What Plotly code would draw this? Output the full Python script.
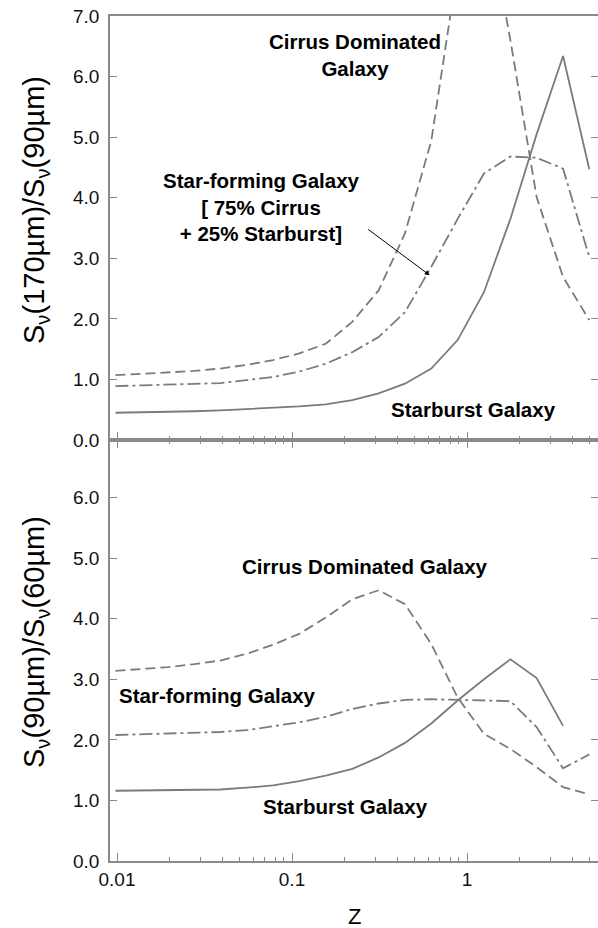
import math
import plotly.graph_objects as go

# ---------------- data ----------------
z = [0.0098, 0.0138, 0.0195, 0.0276, 0.039, 0.055, 0.078, 0.11, 0.156, 0.221,
     0.3125, 0.442, 0.625, 0.884, 1.25, 1.77, 2.5, 3.54, 5.0]

# Top panel: S(170um)/S(90um)
top_starburst = [0.45, 0.455, 0.465, 0.475, 0.49, 0.51, 0.54, 0.555, 0.59, 0.66,
                 0.77, 0.93, 1.18, 1.65, 2.44, 3.65, 5.05, 6.34, 4.47]
top_cirrus = [1.07, 1.09, 1.11, 1.14, 1.18, 1.24, 1.32, 1.43, 1.59, 1.95,
              2.47, 3.41, 4.94, 7.8, 9.0, 6.6, 4.01, 2.69, 1.98]
top_starforming = [0.89, 0.90, 0.91, 0.925, 0.94, 0.99, 1.04, 1.13, 1.26, 1.45,
                   1.70, 2.11, 2.86, 3.65, 4.40, 4.68, 4.66, 4.48, 3.02]

# Bottom panel: S(90um)/S(60um)
bot_z_starburst = z[:-1]
bot_starburst = [1.16, 1.165, 1.17, 1.175, 1.18, 1.21, 1.25, 1.32, 1.41, 1.52,
                 1.71, 1.95, 2.27, 2.65, 3.00, 3.33, 3.02, 2.23]
bot_cirrus = [3.14, 3.17, 3.20, 3.25, 3.31, 3.42, 3.57, 3.75, 4.02, 4.32,
              4.47, 4.24, 3.58, 2.70, 2.10, 1.85, 1.55, 1.22, 1.10]
bot_starforming = [2.08, 2.09, 2.10, 2.11, 2.13, 2.16, 2.22, 2.29, 2.38, 2.51,
                   2.60, 2.66, 2.67, 2.66, 2.66, 2.64, 2.21, 1.53, 1.76]

x_tickvals = [0.01, 0.1, 1]
x_ticktext = ["0.01", "0.1", "1"]
x_minor = [0.02, 0.03, 0.04, 0.05, 0.06, 0.07, 0.08, 0.09,
           0.2, 0.3, 0.4, 0.5, 0.6, 0.7, 0.8, 0.9, 2, 3, 4, 5]
top_yticks = [0, 1, 2, 3, 4, 5, 6, 7]
bot_yticks = [0, 1, 2, 3, 4, 5, 6]

# ---------------- style ----------------
LINE = "#7b7b7b"
AX = "#8a8a8a"
FONT = "Liberation Sans, Arial, sans-serif"
W = 1.8
DASH = "10px,5px"
DASHDOT = "13px,4px,3px,4px"

fig = go.Figure()

def add(x, y, dash, xa, ya):
    fig.add_trace(go.Scatter(x=x, y=y, mode="lines", xaxis=xa, yaxis=ya,
                             line=dict(color=LINE, width=W, dash=dash),
                             showlegend=False, hoverinfo="skip"))

add(z, top_cirrus, DASH, "x2", "y2")
add(z, top_starforming, DASHDOT, "x2", "y2")
add(z, top_starburst, "solid", "x2", "y2")
add(z, bot_cirrus, DASH, "x", "y")
add(z, bot_starforming, DASHDOT, "x", "y")
add(bot_z_starburst, bot_starburst, "solid", "x", "y")

xr = [-2.04, 0.7486]
split = 0.4982

xcommon = dict(type="log", range=xr, showline=True, linecolor=AX, linewidth=1.5,
               ticks="inside", ticklen=8, tickwidth=1, tickcolor=AX,
               tickvals=x_tickvals, ticktext=x_ticktext, showgrid=False, zeroline=False,
               automargin=False,
               minor=dict(tickvals=x_minor, ticks="inside", ticklen=4, tickwidth=1,
                          tickcolor=AX, showgrid=False),
               tickfont=dict(family=FONT, size=19, color="#111"))
ycommon = dict(showline=True, linecolor=AX, linewidth=1.5, mirror="ticks",
               ticks="inside", ticklen=7, tickwidth=1, tickcolor=AX,
               showgrid=False, zeroline=False, tickformat=".1f", automargin=False,
               ticklabelstandoff=5,
               tickfont=dict(family=FONT, size=19, color="#111"))

fig.update_layout(
    width=598, height=928,
    margin=dict(l=110, r=0, t=16, b=67, autoexpand=False),
    paper_bgcolor="white", plot_bgcolor="white",
    xaxis=dict(**xcommon, anchor="y", domain=[0, 1], mirror="ticks"),
    yaxis=dict(**ycommon, anchor="x", domain=[0, split], range=[0, 6.95],
               tickvals=bot_yticks),
    xaxis2=dict(**xcommon, anchor="y2", domain=[0, 1], matches="x", mirror=True,
                showticklabels=False),
    yaxis2=dict(**ycommon, anchor="x2", domain=[split, 1], range=[0, 7],
                tickvals=top_yticks),
)

lab = dict(family=FONT, size=20.5, color="#000")

def note(text, zx, v, xa, ya, **kw):
    fig.add_annotation(text=text, x=math.log10(zx), y=v, xref=xa, yref=ya,
                       showarrow=False, font=lab, align="center", **kw)

# top panel labels
note("<b>Cirrus Dominated<br>Galaxy</b>", 10 ** -0.642, 6.36, "x2", "y2")
note("<b>Star-forming Galaxy<br>[ 75% Cirrus<br>+ 25% Starburst]</b>", 10 ** -1.173, 3.84, "x2", "y2")
note("<b>Starburst Galaxy</b>", 10 ** 0.037, 0.51, "x2", "y2")
fig.add_annotation(x=-0.213, y=2.72, xref="x2", yref="y2", text="", showarrow=True,
                   ax=-63, ay=-47, arrowhead=2, arrowsize=1, arrowwidth=1,
                   arrowcolor="#000")

# bottom panel labels
note("<b>Cirrus Dominated Galaxy</b>", 10 ** -0.585, 4.86, "x", "y")
note("<b>Star-forming Galaxy</b>", 10 ** -1.424, 2.74, "x", "y")
note("<b>Starburst Galaxy</b>", 10 ** -0.695, 0.90, "x", "y")

# axis titles
fig.add_annotation(text="S<sub>ν</sub>(170µm)/S<sub>ν</sub>(90µm)", textangle=-90,
                   xref="paper", yref="paper", x=0, xshift=-74, y=(861 - 210) / 845,
                   xanchor="center", yanchor="middle",
                   showarrow=False, font=dict(family=FONT, size=29, color="#000"))
fig.add_annotation(text="S<sub>ν</sub>(90µm)/S<sub>ν</sub>(60µm)", textangle=-90,
                   xref="paper", yref="paper", x=0, xshift=-74, y=(861 - 642) / 845,
                   xanchor="center", yanchor="middle",
                   showarrow=False, font=dict(family=FONT, size=29, color="#000"))
fig.add_annotation(text="Z", xref="paper", yref="paper", x=0.5, y=0, yshift=-55,
                   xanchor="center", yanchor="middle",
                   showarrow=False, font=dict(family=FONT, size=22, color="#000"))

fig.write_html("out.html", config={"displayModeBar": False},
               post_script="document.body.style.margin='0';document.body.style.overflow='hidden';")
